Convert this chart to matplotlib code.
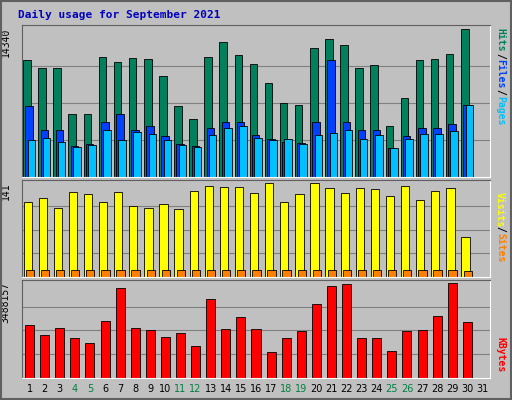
import matplotlib
matplotlib.use('Agg')
import matplotlib.pyplot as plt
import numpy as np

# ── Data ───────────────────────────────────────────────────────
days = list(range(1, 32))
hits = [11370, 10580, 10580, 6170, 6080, 11660, 11170, 11560, 11470, 9800,
        6860, 5590, 11660, 13130, 11860, 10980, 9110, 7150, 6960, 12540,
        13430, 12840, 10580, 10880, 5000, 7640, 11370, 11470, 11960, 14340, 0]
files = [6860, 4610, 4610, 3040, 3230, 5390, 6170, 4610, 5000, 4020,
         3230, 3040, 4800, 5390, 5390, 4120, 3720, 3430, 3330, 5390,
         11370, 5390, 4610, 4610, 2840, 4020, 4800, 4800, 5190, 6960, 0]
pages = [3630, 3820, 3430, 2940, 3140, 4610, 3630, 4410, 4210, 3630,
         3140, 2940, 4120, 4800, 5000, 3820, 3630, 3720, 3230, 4120,
         4310, 4610, 3720, 4120, 2840, 3720, 4210, 4210, 4510, 6960, 0]
visits = [112, 119, 104, 127, 124, 113, 127, 107, 104, 109,
          102, 129, 136, 135, 135, 126, 141, 113, 124, 140,
          133, 126, 133, 132, 121, 136, 115, 129, 133, 60, 0]
sites = [10, 10, 10, 10, 10, 11, 10, 10, 10, 10,
         10, 11, 11, 11, 11, 10, 11, 10, 10, 11,
         11, 10, 11, 11, 10, 11, 10, 11, 11, 9, 0]
kbytes = [1934000, 1592000, 1820000, 1479000, 1289000, 2085000, 3299000, 1820000,
          1744000, 1517000, 1668000, 1175000, 2882000, 1782000, 2237000, 1782000,
          948000, 1479000, 1706000, 2730000, 3374000, 3450000, 1479000, 1479000,
          986000, 1706000, 1744000, 2275000, 3488157, 2047000, 0]
weekend = [4, 5, 11, 12, 18, 19, 25, 26]

BG = '#C0C0C0'
fig = plt.figure(figsize=(5.12, 4.0), dpi=100, facecolor=BG)
fig.patches.append(plt.Rectangle((0.002, 0.002), 0.996, 0.996, transform=fig.transFigure,
                                 fill=False, edgecolor='#606060', linewidth=1.5))
fig.text(0.035, 0.963, 'Daily usage for September 2021', color='#0000C0',
         fontsize=8, fontweight='bold', family='DejaVu Sans Mono', va='center')

L, W = 22 / 512, 468 / 512
ax1 = fig.add_axes([L, 1 - 177 / 400, W, 152 / 400])
ax2 = fig.add_axes([L, 1 - 277 / 400, W, 97 / 400])
ax3 = fig.add_axes([L, 1 - 378 / 400, W, 98 / 400])

d = np.array(days)
for ax, top in ((ax1, max(hits)), (ax2, max(visits)), (ax3, max(kbytes))):
    ax.set_facecolor(BG)
    ax.set_xlim(0.5, 31.5)
    ax.set_ylim(0, top * 1.03)
    for f in (0.25, 0.5, 0.75):
        ax.axhline(top * f, color='#808080', linewidth=0.8, zorder=0)
    ax.set_xticks([])
    ax.set_yticks([])
    for s in ('top', 'left'):
        ax.spines[s].set_color('#606060')
    for s in ('bottom', 'right'):
        ax.spines[s].set_color('white')

kw = dict(align='edge', edgecolor='black', linewidth=0.6)
ax1.bar(d - 0.42, hits, 0.5, color='#00805C', **kw)
ax1.bar(d - 0.27, files, 0.5, color='#0040FF', **kw)
ax1.bar(d - 0.12, pages, 0.5, color='#00C0FF', **kw)
ax2.bar(d - 0.4, visits, 0.55, color='#FFFF00', **kw)
ax2.bar(d - 0.25, sites, 0.55, color='#FF8000', **kw)
ax3.bar(d - 0.3, kbytes, 0.6, color='#FF0000', **kw)

mono = dict(family='DejaVu Sans Mono', fontsize=7)
ax1.text(-0.035, 0.98, str(max(hits)), transform=ax1.transAxes, rotation=90,
         ha='center', va='top', **mono)
ax2.text(-0.035, 0.98, str(max(visits)), transform=ax2.transAxes, rotation=90,
         ha='center', va='top', **mono)
ax3.text(-0.035, 0.98, str(max(kbytes)), transform=ax3.transAxes, rotation=90,
         ha='center', va='top', **mono)

def side(items):
    for label, col, ypx in items:
        fig.text(500 / 512, 1 - ypx / 400, label, color=col, rotation=-90,
                 ha='center', va='center', fontweight='bold', **mono)

side([('Hits', '#00805C', 40), ('/', 'black', 56), ('Files', '#0040FF', 74),
      ('/', 'black', 92), ('Pages', '#00C0FF', 111),
      ('Visits', '#FFFF00', 210), ('/', 'black', 229), ('Sites', '#FF8000', 248),
      ('KBytes', '#FF0000', 355)])

for day in days:
    fig.text((22 + (day - 0.5) * 468 / 31.0) / 512, 1 - 389 / 400, str(day),
             color='#008040' if day in weekend else 'black',
             ha='center', va='center', fontsize=7)

fig.savefig('out.png', dpi=100, facecolor=BG)
